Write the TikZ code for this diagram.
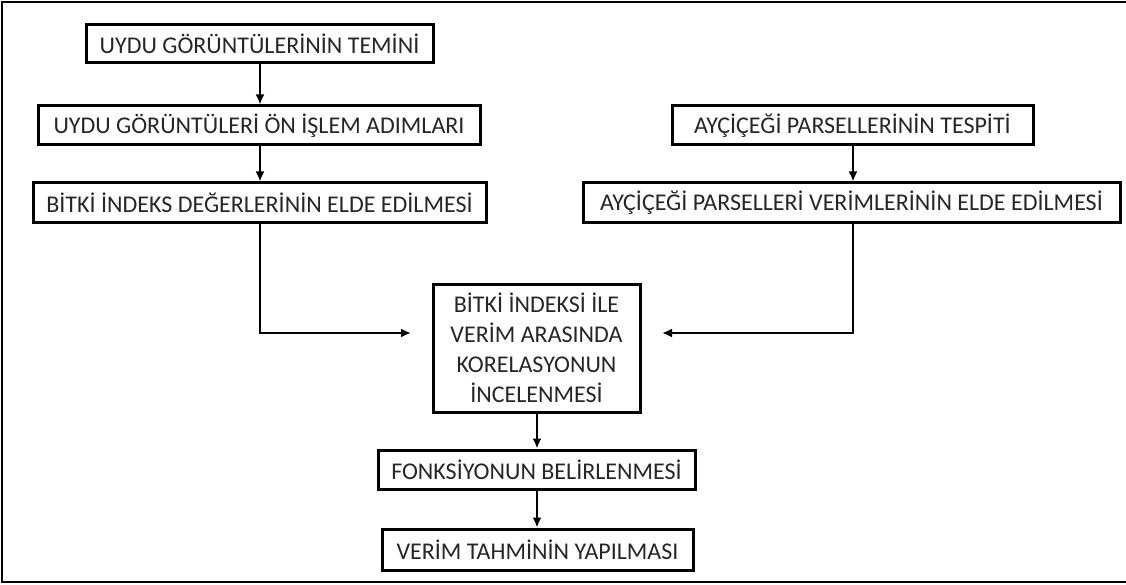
\documentclass[tikz,border=0pt]{standalone}
\usepackage{fontspec}
\setmainfont{Carlito}
\usepackage{amsmath}
\usetikzlibrary{arrows.meta}

\begin{document}
\begin{tikzpicture}[x=1pt,y=-1pt,>={Latex[length=10pt,width=9pt]},
  box/.style={draw,line width=3pt,inner sep=0pt,align=center,text=black!85,
    font=\fontsize{24}{30}\selectfont},
  link/.style={->,line width=2.6pt}]
\useasboundingbox (0,0) rectangle (1126,585);
\draw[line width=2pt] (1126,2) -- (2,2) -- (2,582) -- (1126,582);

\node[box,minimum width=347,minimum height=38] (temin) at (259.5,44) {UYDU GÖRÜNTÜLERİNİN TEMİNİ};
\node[box,minimum width=442,minimum height=39] (onislem) at (259,125.5) {UYDU GÖRÜNTÜLERİ ÖN İŞLEM ADIMLARI};
\node[box,minimum width=453,minimum height=40] (indeks) at (259.5,203) {BİTKİ İNDEKS DEĞERLERİNİN ELDE EDİLMESİ};
\node[box,minimum width=361,minimum height=39] (tespit) at (852.5,125.5) {AYÇİÇEĞİ PARSELLERİNİN TESPİTİ};
\node[box,minimum width=537,minimum height=40] (verimler) at (851.5,203) {AYÇİÇEĞİ PARSELLERİ VERİMLERİNİN ELDE EDİLMESİ};
\node[box,minimum width=207,minimum height=128] (korel) at (536.5,348) {BİTKİ İNDEKSİ İLE\\VERİM ARASINDA\\KORELASYONUN\\İNCELENMESİ};
\node[box,minimum width=317,minimum height=39] (fonk) at (536.5,469.5) {FONKSİYONUN BELİRLENMESİ};
\node[box,minimum width=311,minimum height=41] (tahmin) at (537.5,549.5) {VERİM TAHMİNİN YAPILMASI};

\coordinate (solgiris) at (411,333);
\coordinate (saggiris) at (662,333);

\draw[link] (temin.south -| 260,0) -- (onislem.north -| 260,0);
\draw[link] (onislem.south -| 260,0) -- (indeks.north -| 260,0);
\draw[link] (tespit.south -| 853,0) -- (verimler.north -| 853,0);
\draw[link] (indeks.south -| 260,0) |- (solgiris);
\draw[link] (verimler.south -| 853,0) |- (saggiris);
\draw[link] (korel.south -| 537,0) -- (fonk.north -| 537,0);
\draw[link] (fonk.south -| 537,0) -- (tahmin.north -| 537,0);
\end{tikzpicture}
\end{document}
